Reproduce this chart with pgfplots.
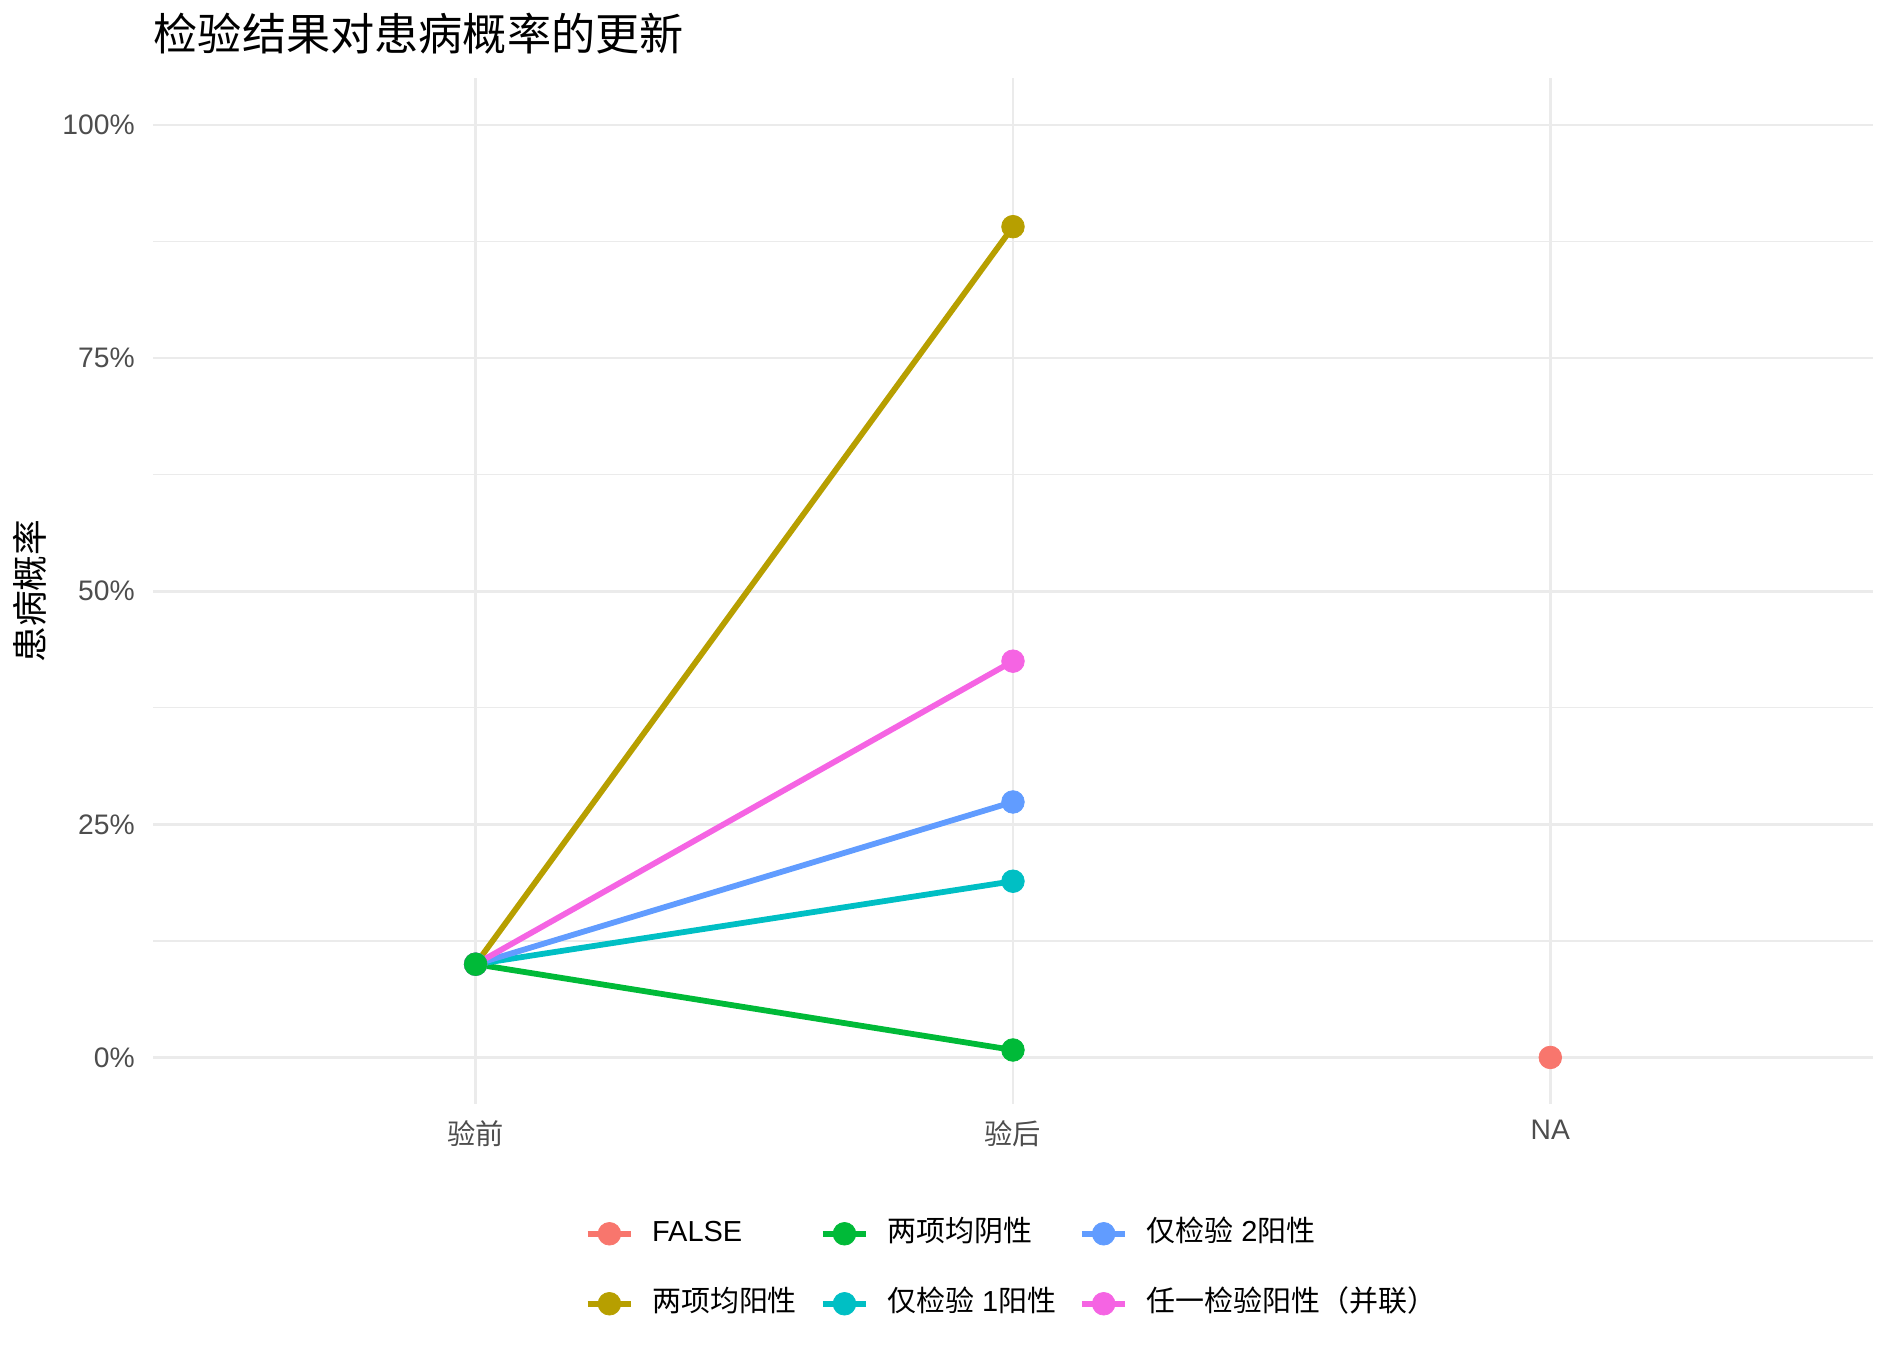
\documentclass[border=0pt]{standalone}
\usepackage{fontspec}
\setmainfont{Liberation Sans}
\newfontfamily\cjk{Noto Sans CJK SC}
\usepackage{pgfplots}
\pgfplotsset{compat=1.18}
\usetikzlibrary{calc}

\definecolor{cFalse}{HTML}{F8766D}
\definecolor{cBothPos}{HTML}{B79F00}
\definecolor{cBothNeg}{HTML}{00BA38}
\definecolor{cOne}{HTML}{00BFC4}
\definecolor{cTwo}{HTML}{619CFF}
\definecolor{cAny}{HTML}{F564E3}
\definecolor{gridc}{HTML}{EBEBEB}
\definecolor{tickc}{HTML}{4D4D4D}

\pgfplotsset{
  ln/.style={forget plot, line width=2.4pt, line cap=round},
  pt/.style={forget plot, only marks, mark=*, mark size=4.7pt, mark options={line width=0.3pt}},
  key/.style={line width=2.4pt, mark=*, mark size=4.7pt, mark options={line width=0.3pt}},
}

\begin{document}
\begin{tikzpicture}
\begin{axis}[
  scale only axis, width=712.5pt, height=425pt,
  xmin=0.4, xmax=3.6, ymin=-5, ymax=105,
  xtick={1,2,3}, xticklabels={{\cjk 验前},{\cjk 验后},NA},
  ytick={0,25,50,75,100}, yticklabels={0\%,25\%,50\%,75\%,100\%},
  minor ytick={12.5,37.5,62.5,87.5},
  grid=both,
  major grid style={color=gridc, line width=1.1pt},
  minor grid style={color=gridc, line width=0.55pt},
  axis line style={draw=none}, tick style={draw=none},
  major tick length=0pt, minor tick length=0pt,
  ticklabel style={font=\fontsize{11.7}{14}\selectfont, text=tickc},
  yticklabel style={inner sep=0pt, anchor=east, xshift=-7.5pt},
  xticklabel style={inner sep=0pt, anchor=north, yshift=-6.5pt},
  clip=false,
  legend columns=3,
  legend cell align=left,
  legend image code/.code={\draw[mark repeat=2, mark phase=2, #1] plot coordinates {(0pt,0pt) (9pt,0pt) (18pt,0pt)};},
  legend style={draw=none, fill=none, at={(0.4985,-0.1147)}, anchor=north,
    inner sep=0pt, outer sep=0pt, font=\fontsize{12}{14.4}\selectfont,
    row sep=19pt, column sep=7.5pt,
    /tikz/every even column/.append style={column sep=9.5pt},
    nodes={inner sep=0pt, text height=0.8em, text depth=0.2em}},
]
% lines
\addplot[ln, color=cBothPos] coordinates {(1,10) (2,89.1)};
\addplot[ln, color=cBothNeg] coordinates {(1,10) (2,0.8)};
\addplot[ln, color=cOne] coordinates {(1,10) (2,18.9)};
\addplot[ln, color=cTwo] coordinates {(1,10) (2,27.4)};
\addplot[ln, color=cAny] coordinates {(1,10) (2,42.5)};
% points
\addplot[pt, color=cFalse] coordinates {(3,0)};
\addplot[pt, color=cBothPos] coordinates {(1,10) (2,89.1)};
\addplot[pt, color=cOne] coordinates {(1,10) (2,18.9)};
\addplot[pt, color=cTwo] coordinates {(1,10) (2,27.4)};
\addplot[pt, color=cAny] coordinates {(1,10) (2,42.5)};
\addplot[pt, color=cBothNeg] coordinates {(1,10) (2,0.8)};
% legend, filled by rows as in the reference
\addlegendimage{key, color=cFalse}
\addlegendentry{FALSE}
\addlegendimage{key, color=cBothNeg}
\addlegendentry{{\cjk 两项均阴性}}
\addlegendimage{key, color=cTwo}
\addlegendentry{{\cjk 仅检验} 2{\cjk 阳性}}
\addlegendimage{key, color=cBothPos}
\addlegendentry{{\cjk 两项均阳性}}
\addlegendimage{key, color=cOne}
\addlegendentry{{\cjk 仅检验} 1{\cjk 阳性}}
\addlegendimage{key, color=cAny}
\addlegendentry{{\cjk 任一检验阳性（并联）}}

\node[rotate=90, font=\cjk\fontsize{14.8}{17}\selectfont, inner sep=0pt]
  at ([xshift=-51pt]rel axis cs:0,0.5) {患病概率};
\node[anchor=west, font=\cjk\fontsize{18.3}{21}\selectfont, inner sep=0pt]
  at ([yshift=18.5pt]rel axis cs:0,1) {检验结果对患病概率的更新};
\coordinate (sw) at (rel axis cs:0,0);
\coordinate (ne) at (rel axis cs:1,1);
\end{axis}
\pgfresetboundingbox
\path[use as bounding box] ($(sw)+(-63.5pt,-107.5pt)$) rectangle ($(ne)+(8pt,32.5pt)$);
\end{tikzpicture}
\end{document}
